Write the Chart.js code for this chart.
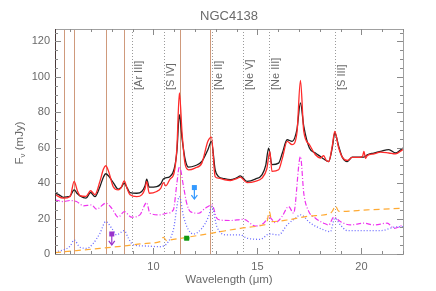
<!DOCTYPE html>
<html lang="en">
<head>
<meta charset="UTF-8">
<title>NGC4138</title>
<script src="https://cdn.jsdelivr.net/npm/chart.js"></script>
<style>
  html, body { margin: 0; padding: 0; background: #fff; }
  #wrap { width: 436px; height: 291px; }
</style>
</head>
<body>
<div id="wrap"><canvas id="canvas" width="436" height="291"></canvas></div>
<script>
// observed spectrum (black)
const obsWl = [5.27,5.45,5.67,5.85,6.0,6.19,6.35,6.47,6.76,6.98,7.19,7.43,7.6,7.71,7.85,8.07,8.31,8.45,8.6,8.75,8.88,9.2,9.44,9.6,9.68,9.8,10.16,10.35,10.48,10.8,11.0,11.13,11.25,11.38,11.53,11.69,12.0,12.33,12.62,12.79,12.97,13.13,13.4,13.7,14.0,14.18,14.5,14.9,15.22,15.4,15.54,15.7,16.02,16.2,16.43,16.67,16.9,17.07,17.23,17.5,17.79,18.03,18.19,18.43,18.6,18.72,18.91,19.08,19.32,19.56,19.88,20.12,20.28,20.6,20.92,21.32,21.64,22.0];
const obsFlux = [34.3,33.5,32.0,32.3,32.8,36.2,34.0,32.8,31.5,34.7,32.4,38.0,43.5,45.3,44.0,40.3,36.6,37.5,40.0,37.0,34.7,34.3,35.3,38.5,42.3,37.7,38.0,39.5,42.3,43.8,48.0,58.0,78.7,65.0,53.2,49.0,49.8,52.2,58.9,63.6,47.5,43.7,42.5,41.9,43.0,44.1,41.0,42.3,44.7,50.0,59.8,50.4,51.3,57.0,64.5,63.6,70.2,85.3,72.0,59.8,57.0,55.0,53.6,52.2,60.0,68.3,60.7,54.7,52.2,54.7,54.7,54.7,56.0,57.0,57.9,58.9,57.0,59.8];

// model total (red)
const modWl = [5.27,5.67,6.0,6.19,6.35,6.47,6.76,6.98,7.19,7.43,7.6,7.71,7.85,8.07,8.31,8.45,8.6,8.75,8.88,9.2,9.44,9.6,9.68,9.8,10.16,10.35,10.48,10.6,10.8,11.0,11.13,11.25,11.38,11.53,11.69,12.0,12.33,12.62,12.79,12.97,13.13,13.4,13.7,14.0,14.18,14.5,14.9,15.22,15.45,15.6,15.7,16.02,16.2,16.43,16.67,16.9,17.07,17.23,17.5,17.79,18.03,18.19,18.3,18.43,18.6,18.72,18.91,19.08,19.32,19.56,19.88,20.05,20.12,20.2,20.28,20.6,20.92,21.32,21.64,22.0];
const modFlux = [33.5,31.5,32.5,41.0,35.5,33.0,32.5,35.7,33.5,41.0,48.0,49.8,46.5,38.0,36.2,37.5,41.3,36.5,33.4,32.4,33.4,37.0,41.0,34.3,35.3,37.0,40.3,38.5,42.3,46.0,60.0,91.0,68.0,50.4,47.5,48.5,51.3,63.6,66.0,43.7,42.8,42.0,41.5,42.5,43.4,40.3,41.0,42.8,48.0,57.9,46.6,47.5,54.0,63.6,61.7,68.3,98.0,69.2,61.7,56.0,54.2,55.5,53.0,52.2,61.0,69.2,59.8,54.7,52.8,54.5,54.5,55.0,57.9,54.0,55.5,56.5,57.5,57.0,56.5,59.0];

// PAH component (magenta dash-dot)
const pahCompWl = [5.27,5.67,6.0,6.3,6.64,7.03,7.27,7.71,8.0,8.31,8.6,8.95,9.35,9.68,9.83,10.32,10.64,10.96,11.13,11.25,11.45,11.6,11.77,12.17,12.49,12.81,13.05,13.21,13.7,14.33,14.9,15.3,15.57,15.86,16.18,16.5,16.74,17.07,17.23,17.47,17.79,18.19,18.43,18.67,18.99,19.47,20.12,20.6,21.24,21.57,22.0];
const pahCompFlux = [30.6,29.6,30.2,29.6,27.2,27.7,25.3,28.7,25.8,20.8,23.9,20.8,22.1,29.0,23.0,22.1,23.0,24.9,40.0,49.4,38.0,28.7,24.0,23.0,25.8,27.7,20.2,19.2,18.9,19.6,15.8,17.4,20.8,17.7,21.1,26.8,23.0,55.0,34.3,24.0,20.2,17.4,16.4,20.8,18.3,16.4,17.4,16.4,17.4,14.5,16.4];

// stellar / other component (blue dotted)
const blueWl = [5.27,5.67,6.0,6.19,6.47,6.8,7.11,7.43,7.71,8.0,8.23,8.6,8.8,9.04,9.68,10.32,10.72,10.96,11.25,11.45,11.69,11.93,12.33,12.65,12.81,13.05,13.53,14.18,14.5,15.14,15.57,16.02,16.43,16.83,17.07,17.55,18.19,18.51,18.72,18.99,19.32,19.96,20.92,21.57,22.0];
const blueFlux = [1.3,2.3,4.5,7.9,3.8,3.2,6.0,11.7,18.3,14.5,10.8,13.2,8.9,5.1,4.5,4.1,7.0,13.6,32.4,21.1,13.6,11.3,14.5,21.1,26.8,15.5,10.8,10.8,8.9,8.3,11.3,10.8,16.4,20.2,22.1,17.4,13.6,12.6,20.2,16.4,13.2,13.2,13.2,15.1,15.5];

// continuum + lines (orange dashed)
const contWl = [5.27,6.3,7.43,8.56,9.68,10.32,10.48,10.64,10.8,11.6,12.57,13.21,14.18,15.3,15.45,15.57,15.7,16.43,17.55,18.51,18.62,18.75,18.88,18.99,20.28,22.0];
const contFlux = [0.8,1.9,3.2,4.5,6.0,7.0,9.4,7.5,7.9,9.4,11.3,12.6,14.5,16.4,17.5,24.0,18.3,19.2,21.5,23.0,24.5,27.2,24.5,24.0,24.9,25.8];

// PAH feature positions (solid) and ionic lines (dotted, labelled)
const pahWl = [5.7, 6.2, 7.7, 8.6, 11.3, 12.7];
const lineWl = [8.99, 10.51, 12.81, 14.32, 15.56, 18.71];
const lineNames = ['[Ar III]', '[S IV]', '[Ne II]', '[Ne V]', '[Ne III]', '[S III]'];

// photometry points: [wavelength, flux, arrow-to flux or null, half-width in wl]
const photWl = [8.0, 11.97, 11.6];
const photFlux = [11.3, 37.5, 8.9];
const photLow = [5.1, 31.0, null];
const photXerr = [0, 0, 0.15];
const photColor = ['#9933cc', '#3399ff', '#119911'];

const xTicks = [10, 15, 20];
const yTicks = [0, 20, 40, 60, 80, 100, 120];

function pts(wl, fl) {
  return wl.map((w, i) => ({ x: w, y: fl[i] }));
}

const TXT = '#6a6a6a';
const FONT = '"Liberation Sans", Arial, sans-serif';

const decor = {
  id: 'decor',
  beforeDatasetsDraw(chart) {
    const c = chart.ctx, a = chart.chartArea;
    const xs = chart.scales.x;
    c.save();
    c.beginPath();
    c.rect(a.left, a.top, a.right - a.left, a.bottom - a.top);
    c.clip();
    c.lineWidth = 1;
    c.strokeStyle = '#cf9a7c';
    pahWl.forEach(w => {
      const px = Math.round(xs.getPixelForValue(w)) + 0.5;
      c.beginPath(); c.moveTo(px, a.top); c.lineTo(px, a.bottom); c.stroke();
    });
    c.strokeStyle = '#9a9a9a';
    c.setLineDash([1, 2]);
    lineWl.forEach(w => {
      const px = Math.round(xs.getPixelForValue(w)) + 0.5;
      c.beginPath(); c.moveTo(px, a.top); c.lineTo(px, a.bottom); c.stroke();
    });
    c.setLineDash([]);
    c.restore();
  },
  afterDatasetsDraw(chart) {
    const c = chart.ctx, a = chart.chartArea;
    const xs = chart.scales.x, ys = chart.scales.y;
    c.save();
    // photometry markers
    photWl.forEach((w, i) => {
      const px = xs.getPixelForValue(w), py = ys.getPixelForValue(photFlux[i]);
      c.strokeStyle = photColor[i];
      c.fillStyle = photColor[i];
      c.lineWidth = 1.2;
      if (photXerr[i]) {
        c.strokeStyle = '#88dd88';
        c.lineWidth = 2.5;
        c.beginPath();
        c.moveTo(xs.getPixelForValue(w - photXerr[i]), py);
        c.lineTo(xs.getPixelForValue(w + photXerr[i]), py);
        c.stroke();
      }
      if (photLow[i] !== null) {
        const ly = ys.getPixelForValue(photLow[i]);
        c.beginPath(); c.moveTo(px, py); c.lineTo(px, ly); c.stroke();
        c.beginPath();
        c.moveTo(px - 3, ly - 4); c.lineTo(px, ly); c.lineTo(px + 3, ly - 4);
        c.stroke();
      }
      c.fillStyle = photColor[i];
      c.fillRect(px - 2.5, py - 2.5, 5, 5);
    });
    // line labels
    c.fillStyle = TXT;
    c.font = '11px ' + FONT;
    c.textAlign = 'left';
    c.textBaseline = 'middle';
    lineWl.forEach((w, i) => {
      const px = xs.getPixelForValue(w) + 7;
      c.save();
      c.translate(px, 90);
      c.rotate(-Math.PI / 2);
      c.fillText(lineNames[i], 0, 0);
      c.restore();
    });
    c.restore();
  },
  afterDraw(chart) {
    const c = chart.ctx, a = chart.chartArea;
    const xs = chart.scales.x, ys = chart.scales.y;
    c.save();
    // frame
    c.lineWidth = 1;
    c.strokeStyle = '#a0a0a0';
    c.strokeRect(a.left + 0.5, a.top + 0.5, a.right - a.left, a.bottom - a.top);
    c.strokeStyle = '#4a3a3a';
    c.beginPath(); c.moveTo(a.left + 0.5, a.top); c.lineTo(a.left + 0.5, a.bottom + 1); c.stroke();
    // ticks
    c.strokeStyle = '#8a8a8a';
    for (let v = 0; v <= 125; v += 5) {
      const py = Math.round(ys.getPixelForValue(v)) + 0.5;
      const len = v % 20 === 0 ? 6 : 3;
      c.beginPath();
      c.moveTo(a.left, py); c.lineTo(a.left + len, py);
      c.moveTo(a.right, py); c.lineTo(a.right - len, py);
      c.stroke();
    }
    for (let v = 6; v <= 22; v++) {
      const px = Math.round(xs.getPixelForValue(v)) + 0.5;
      const len = v % 5 === 0 ? 6 : 3;
      c.beginPath();
      c.moveTo(px, a.bottom); c.lineTo(px, a.bottom - len);
      c.moveTo(px, a.top); c.lineTo(px, a.top + len);
      c.stroke();
    }
    // tick labels
    c.fillStyle = TXT;
    c.font = '11px ' + FONT;
    c.textAlign = 'right';
    c.textBaseline = 'middle';
    yTicks.forEach(v => c.fillText(String(v), a.left - 5, ys.getPixelForValue(v)));
    c.textAlign = 'center';
    xTicks.forEach(v => c.fillText(String(v), xs.getPixelForValue(v), 267));
    // axis titles
    const cx = (a.left + a.right) / 2;
    c.font = '11.5px ' + FONT;
    c.fillText('Wavelength (\u03bcm)', cx, 280);
    c.font = '13px ' + FONT;
    c.fillText('NGC4138', cx, 16);
    // y title with subscript nu
    c.save();
    c.translate(20, 143);
    c.rotate(-Math.PI / 2);
    c.textAlign = 'left';
    c.font = '11.5px ' + FONT;
    const p1 = 'F', p3 = ' (mJy)';
    c.font = '8px ' + FONT;
    const wNu = c.measureText('\u03bd').width;
    c.font = '11.5px ' + FONT;
    const w1 = c.measureText(p1).width, w3 = c.measureText(p3).width;
    const x0 = -(w1 + wNu + w3) / 2;
    c.fillText(p1, x0, 0);
    c.font = '8px ' + FONT;
    c.fillText('\u03bd', x0 + w1, 3);
    c.font = '11.5px ' + FONT;
    c.fillText(p3, x0 + w1 + wNu, 0);
    c.restore();
    c.restore();
  }
};

function line(data, color, width, dash) {
  return {
    data: data,
    borderColor: color,
    borderWidth: width,
    borderDash: dash,
    pointRadius: 0,
    fill: false,
    cubicInterpolationMode: 'monotone'
  };
}

new Chart(document.getElementById('canvas'), {
  type: 'line',
  data: {
    datasets: [
      line(pts(contWl, contFlux), '#ffaa33', 1.2, [6, 4]),
      line(pts(blueWl, blueFlux), '#6a6aff', 1.3, [1, 2]),
      line(pts(pahCompWl, pahCompFlux), '#ee33ee', 1.2, [5, 2, 1, 2]),
      line(pts(modWl, modFlux), '#ff2a2a', 1.3, []),
      line(pts(obsWl, obsFlux), '#1e1e1e', 1.3, [])
    ]
  },
  options: {
    responsive: false,
    animation: false,
    layout: { padding: { left: 55, right: 33, top: 29, bottom: 37 } },
    plugins: { legend: { display: false }, tooltip: { enabled: false } },
    scales: {
      x: { type: 'linear', min: 5.27, max: 22.0, display: false },
      y: { type: 'linear', min: 0, max: 127, display: false }
    }
  },
  plugins: [decor]
});
</script>
</body>
</html>
